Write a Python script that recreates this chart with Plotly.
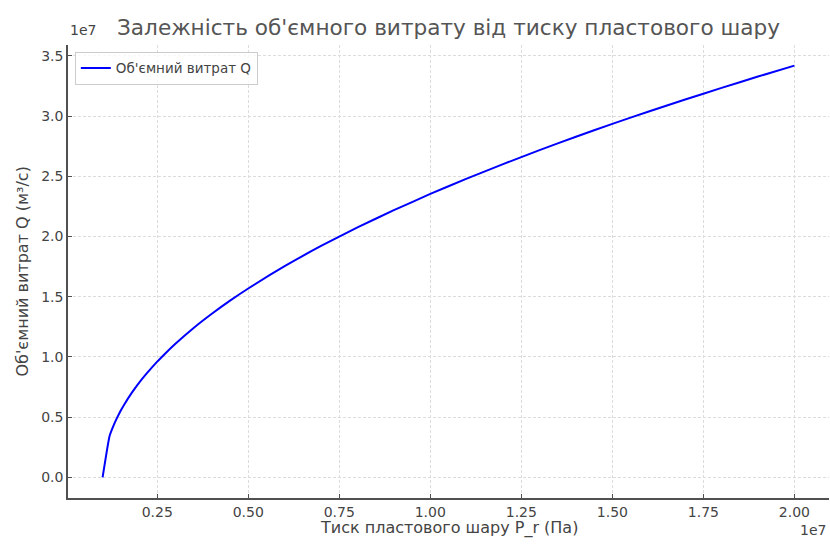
import plotly.graph_objects as go

# Pressure P_r (Pa) and volumetric flow Q (m^3/s)
pressure = [1.0e6, 1.19e6, 1.3e6, 1.4e6, 1.5e6, 1.6e6, 1.8e6, 2.0e6, 2.2e6, 2.5e6, 2.75e6,
            3.0e6, 3.5e6, 4.0e6, 4.5e6, 5.0e6, 6.0e6, 7.0e6, 8.0e6, 9.0e6, 1.0e7, 1.1e7,
            1.2e7, 1.3e7, 1.4e7, 1.5e7, 1.6e7, 1.7e7, 1.8e7, 1.9e7, 2.0e7]
flow = [0.0, 3.42e6, 4.30e6, 4.96e6, 5.55e6, 6.08e6, 7.02e6, 7.85e6, 8.59e6, 9.61e6, 1.038e7,
        1.110e7, 1.241e7, 1.359e7, 1.468e7, 1.569e7, 1.754e7, 1.922e7, 2.076e7, 2.219e7, 2.354e7, 2.481e7,
        2.602e7, 2.718e7, 2.829e7, 2.936e7, 3.039e7, 3.138e7, 3.235e7, 3.329e7, 3.420e7]

x_tick_vals = [0.25e7, 0.50e7, 0.75e7, 1.00e7, 1.25e7, 1.50e7, 1.75e7, 2.00e7]
x_tick_text = ["0.25", "0.50", "0.75", "1.00", "1.25", "1.50", "1.75", "2.00"]
y_tick_vals = [0, 0.5e7, 1.0e7, 1.5e7, 2.0e7, 2.5e7, 3.0e7, 3.5e7]
y_tick_text = ["0.0", "0.5", "1.0", "1.5", "2.0", "2.5", "3.0", "3.5"]

title = "Залежність об'ємного витрату від тиску пластового шару"
x_label = "Тиск пластового шару P_r (Па)"
y_label = "Об'ємний витрат Q (м³/с)"
series_name = "Об'ємний витрат Q"

txt = "#444444"
font = "DejaVu Sans"

fig = go.Figure()
fig.add_trace(go.Scatter(x=pressure, y=flow, mode="lines", name=series_name,
                         line=dict(color="#0000ff", width=2, shape="spline", smoothing=0.4)))

fig.update_layout(
    width=830, height=544,
    margin=dict(l=68, r=1, t=45, b=46),
    paper_bgcolor="white", plot_bgcolor="white",
    font=dict(family=font, size=14, color=txt),
    title=dict(text=title, x=0.5, xanchor="center", xref="paper",
               y=1 - 27 / 544, yanchor="middle",
               font=dict(size=21.6, color="#555555", family=font)),
    showlegend=True,
    legend=dict(x=0.009, y=0.985, xanchor="left", yanchor="top",
                bgcolor="rgba(255,255,255,0.8)", bordercolor="#cccccc", borderwidth=1,
                font=dict(size=13.5, color=txt, family=font)),
    xaxis=dict(range=[0.05e6, 2.095e7], tickvals=x_tick_vals, ticktext=x_tick_text,
               automargin=False,
               showgrid=True, gridcolor="#dcdcdc", griddash="3px,2px", gridwidth=1,
               zeroline=False, showline=True, linecolor="#505050", linewidth=1.5,
               ticks="inside", ticklen=4, tickcolor="#505050",
               tickfont=dict(size=14, color=txt)),
    yaxis=dict(range=[-0.171e7, 3.591e7], tickvals=y_tick_vals, ticktext=y_tick_text,
               automargin=False,
               showgrid=True, gridcolor="#dcdcdc", griddash="3px,2px", gridwidth=1,
               zeroline=False, showline=True, linecolor="#505050", linewidth=1.5,
               ticks="inside", ticklen=4, tickcolor="#505050",
               tickfont=dict(size=14, color=txt)),
)

# axis titles placed like the reference
fig.add_annotation(text=x_label, xref="paper", yref="paper", x=0.5, y=0, xanchor="center",
                   yanchor="middle", showarrow=False, yshift=-30,
                   font=dict(size=16, color=txt, family=font))
fig.add_annotation(text=y_label, xref="paper", yref="paper", x=0, y=0.5, xanchor="center",
                   yanchor="middle", showarrow=False, xshift=-46, textangle=-90,
                   font=dict(size=16, color=txt, family=font))

fig.add_annotation(text="1e7", xref="paper", yref="paper", x=0, y=1, xanchor="left",
                   yanchor="bottom", showarrow=False, font=dict(size=14, color=txt, family=font),
                   yshift=5)
fig.add_annotation(text="1e7", xref="paper", yref="paper", x=1, y=0, xanchor="right",
                   yanchor="middle", showarrow=False, font=dict(size=14, color=txt, family=font),
                   yshift=-32, xshift=-1)

fig.write_html("out.html", config={"displayModeBar": False},
               post_script="document.body.style.margin='0';")
